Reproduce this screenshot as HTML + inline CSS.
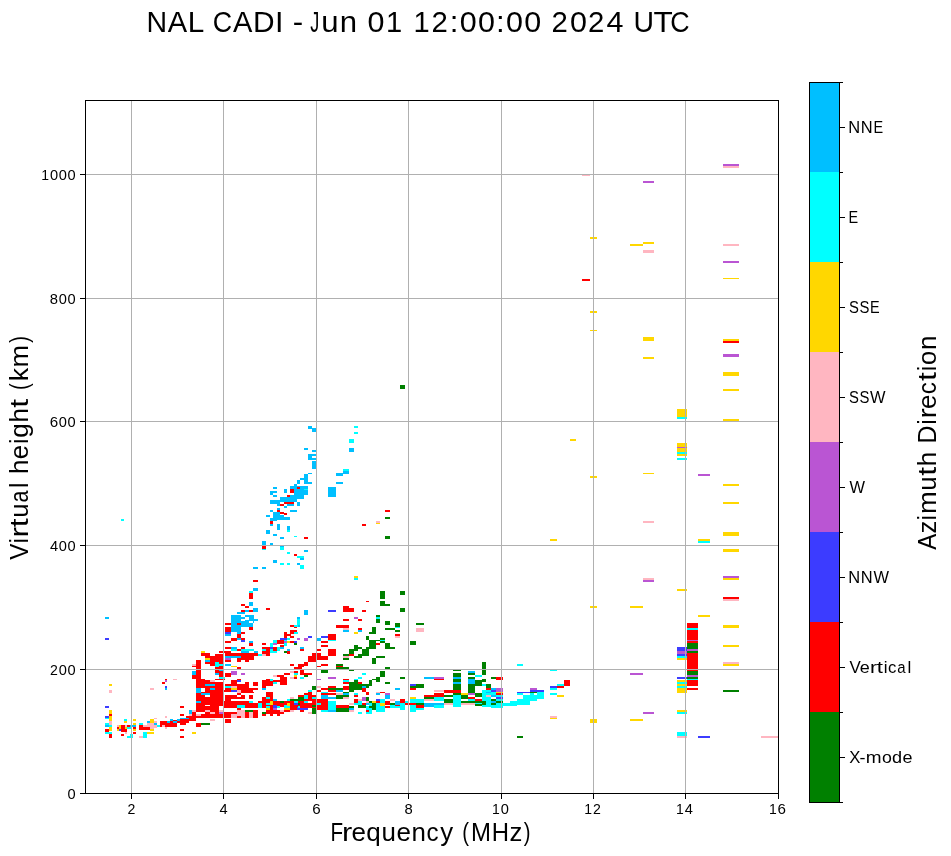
<!DOCTYPE html><html><head><meta charset="utf-8"><style>html,body{margin:0;padding:0;background:#fff;width:951px;height:856px;overflow:hidden}svg{position:absolute;left:0;top:0;will-change:transform}text{font-family:"Liberation Sans",sans-serif;fill:#000}</style></head><body>
<svg width="951" height="856" viewBox="0 0 951 856">
<g shape-rendering="crispEdges">
<rect x="723" y="164" width="16" height="2" fill="#ba55d3"/>
<rect x="723" y="166" width="16" height="2" fill="#ffb6c1"/>
<rect x="582" y="174" width="8" height="2" fill="#ffb6c1"/>
<rect x="643" y="181" width="11" height="2" fill="#ba55d3"/>
<rect x="590" y="237" width="7" height="2" fill="#ffd700"/>
<rect x="630" y="244" width="13" height="2" fill="#ffd700"/>
<rect x="643" y="242" width="11" height="2" fill="#ffd700"/>
<rect x="643" y="250" width="11" height="3" fill="#ffb6c1"/>
<rect x="723" y="244" width="16" height="2" fill="#ffb6c1"/>
<rect x="723" y="261" width="16" height="2" fill="#ba55d3"/>
<rect x="723" y="278" width="16" height="1" fill="#ffd700"/>
<rect x="582" y="279" width="8" height="2" fill="#ff0000"/>
<rect x="590" y="311" width="7" height="2" fill="#ffd700"/>
<rect x="590" y="330" width="7" height="1" fill="#ffd700"/>
<rect x="643" y="337" width="11" height="4" fill="#ffd700"/>
<rect x="723" y="339" width="16" height="2" fill="#ffd700"/>
<rect x="723" y="341" width="16" height="2" fill="#ff0000"/>
<rect x="723" y="354" width="16" height="3" fill="#ba55d3"/>
<rect x="643" y="357" width="11" height="2" fill="#ffd700"/>
<rect x="723" y="372" width="16" height="4" fill="#ffd700"/>
<rect x="723" y="389" width="16" height="2" fill="#ffd700"/>
<rect x="677" y="409" width="10" height="8" fill="#ffd700"/>
<rect x="677" y="417" width="10" height="2" fill="#00ffff"/>
<rect x="723" y="419" width="16" height="2" fill="#ffd700"/>
<rect x="570" y="439" width="6" height="2" fill="#ffd700"/>
<rect x="677" y="443" width="10" height="13" fill="#ffd700"/>
<rect x="677" y="447" width="10" height="1" fill="#ba55d3"/>
<rect x="677" y="452" width="10" height="2" fill="#00ffff"/>
<rect x="677" y="458" width="10" height="2" fill="#00ffff"/>
<rect x="698" y="474" width="12" height="2" fill="#ba55d3"/>
<rect x="643" y="473" width="11" height="1" fill="#ffd700"/>
<rect x="590" y="476" width="7" height="2" fill="#ffd700"/>
<rect x="723" y="484" width="16" height="2" fill="#ffd700"/>
<rect x="723" y="502" width="16" height="2" fill="#ffd700"/>
<rect x="643" y="521" width="11" height="2" fill="#ffb6c1"/>
<rect x="723" y="532" width="16" height="4" fill="#ffd700"/>
<rect x="550" y="539" width="7" height="2" fill="#ffd700"/>
<rect x="698" y="539" width="12" height="2" fill="#ffd700"/>
<rect x="698" y="541" width="12" height="2" fill="#00ffff"/>
<rect x="723" y="549" width="16" height="3" fill="#ffd700"/>
<rect x="723" y="578" width="16" height="2" fill="#ffd700"/>
<rect x="643" y="578" width="11" height="2" fill="#ffb6c1"/>
<rect x="643" y="580" width="11" height="2" fill="#ba55d3"/>
<rect x="677" y="589" width="10" height="2" fill="#ffd700"/>
<rect x="723" y="597" width="16" height="2" fill="#ff0000"/>
<rect x="723" y="599" width="16" height="2" fill="#ffb6c1"/>
<rect x="590" y="606" width="7" height="2" fill="#ffd700"/>
<rect x="630" y="606" width="13" height="2" fill="#ffd700"/>
<rect x="698" y="615" width="12" height="2" fill="#ffd700"/>
<rect x="723" y="625" width="16" height="3" fill="#ffd700"/>
<rect x="723" y="645" width="16" height="2" fill="#ffd700"/>
<rect x="723" y="662" width="16" height="2" fill="#ffb6c1"/>
<rect x="723" y="664" width="16" height="2" fill="#ffd700"/>
<rect x="723" y="690" width="16" height="2" fill="#008000"/>
<rect x="550" y="669" width="7" height="2" fill="#00ffff"/>
<rect x="630" y="673" width="13" height="2" fill="#ba55d3"/>
<rect x="643" y="712" width="11" height="2" fill="#ba55d3"/>
<rect x="630" y="719" width="13" height="2" fill="#ffd700"/>
<rect x="550" y="716" width="7" height="2" fill="#ffb6c1"/>
<rect x="550" y="718" width="7" height="1" fill="#ffd700"/>
<rect x="590" y="719" width="7" height="4" fill="#ffd700"/>
<rect x="677" y="732" width="10" height="4" fill="#00ffff"/>
<rect x="677" y="736" width="10" height="2" fill="#ffb6c1"/>
<rect x="698" y="736" width="12" height="2" fill="#3c3cff"/>
<rect x="761" y="736" width="17" height="2" fill="#ffb6c1"/>
<rect x="687" y="623" width="11" height="63" fill="#ff0000"/>
<rect x="687" y="628" width="11" height="2" fill="#00ffff"/>
<rect x="687" y="640" width="11" height="1" fill="#ba55d3"/>
<rect x="687" y="643" width="11" height="6" fill="#008000"/>
<rect x="687" y="649" width="11" height="2" fill="#ba55d3"/>
<rect x="687" y="651" width="11" height="2" fill="#008000"/>
<rect x="687" y="671" width="11" height="4" fill="#008000"/>
<rect x="687" y="675" width="11" height="2" fill="#ba55d3"/>
<rect x="687" y="677" width="11" height="2" fill="#008000"/>
<rect x="687" y="679" width="11" height="1" fill="#00ffff"/>
<rect x="687" y="688" width="11" height="2" fill="#ff0000"/>
<rect x="677" y="647" width="10" height="4" fill="#3c3cff"/>
<rect x="677" y="651" width="10" height="3" fill="#ba55d3"/>
<rect x="677" y="654" width="10" height="2" fill="#3c3cff"/>
<rect x="677" y="656" width="10" height="2" fill="#00ffff"/>
<rect x="677" y="658" width="10" height="2" fill="#ffd700"/>
<rect x="677" y="677" width="10" height="2" fill="#3c3cff"/>
<rect x="677" y="680" width="10" height="2" fill="#ffd700"/>
<rect x="677" y="682" width="10" height="2" fill="#00ffff"/>
<rect x="677" y="684" width="10" height="2" fill="#ffd700"/>
<rect x="677" y="686" width="10" height="2" fill="#00ffff"/>
<rect x="677" y="688" width="10" height="5" fill="#ffd700"/>
<rect x="677" y="710" width="10" height="2" fill="#ffd700"/>
<rect x="677" y="712" width="10" height="2" fill="#00ffff"/>
<rect x="723" y="576" width="16" height="2" fill="#ba55d3"/>
<rect x="400" y="385" width="5" height="4" fill="#008000"/>
<rect x="354" y="426" width="4" height="2" fill="#00ffff"/>
<rect x="354" y="432" width="4" height="2" fill="#00ffff"/>
<rect x="349" y="439" width="5" height="4" fill="#00ffff"/>
<rect x="349" y="448" width="5" height="4" fill="#00bfff"/>
<rect x="343" y="469" width="6" height="5" fill="#00bfff"/>
<rect x="343" y="469" width="6" height="2" fill="#00ffff"/>
<rect x="336" y="473" width="7" height="3" fill="#00bfff"/>
<rect x="336" y="482" width="7" height="2" fill="#00bfff"/>
<rect x="328" y="487" width="8" height="10" fill="#00bfff"/>
<rect x="385" y="510" width="5" height="2" fill="#ff0000"/>
<rect x="385" y="517" width="5" height="2" fill="#008000"/>
<rect x="376" y="521" width="4" height="2" fill="#ffb6c1"/>
<rect x="376" y="523" width="4" height="1" fill="#ffd700"/>
<rect x="362" y="524" width="4" height="2" fill="#ff0000"/>
<rect x="385" y="536" width="5" height="3" fill="#008000"/>
<rect x="308" y="426" width="4" height="3" fill="#00bfff"/>
<rect x="312" y="428" width="4" height="4" fill="#00bfff"/>
<rect x="304" y="448" width="4" height="2" fill="#00bfff"/>
<rect x="312" y="450" width="4" height="2" fill="#00bfff"/>
<rect x="308" y="454" width="8" height="2" fill="#00bfff"/>
<rect x="308" y="456" width="4" height="2" fill="#00bfff"/>
<rect x="308" y="458" width="8" height="2" fill="#00bfff"/>
<rect x="312" y="461" width="4" height="8" fill="#00bfff"/>
<rect x="308" y="473" width="4" height="1" fill="#00bfff"/>
<rect x="304" y="474" width="4" height="10" fill="#00bfff"/>
<rect x="308" y="482" width="4" height="2" fill="#00bfff"/>
<rect x="300" y="478" width="4" height="2" fill="#00bfff"/>
<rect x="297" y="480" width="3" height="4" fill="#00bfff"/>
<rect x="294" y="484" width="3" height="2" fill="#00bfff"/>
<rect x="290" y="486" width="18" height="4" fill="#00bfff"/>
<rect x="297" y="487" width="3" height="2" fill="#ff0000"/>
<rect x="304" y="489" width="4" height="2" fill="#00ffff"/>
<rect x="294" y="490" width="14" height="5" fill="#00bfff"/>
<rect x="290" y="489" width="4" height="4" fill="#ff0000"/>
<rect x="284" y="489" width="3" height="4" fill="#00bfff"/>
<rect x="273" y="487" width="4" height="2" fill="#00bfff"/>
<rect x="270" y="491" width="7" height="2" fill="#00bfff"/>
<rect x="270" y="493" width="3" height="2" fill="#00bfff"/>
<rect x="273" y="495" width="4" height="2" fill="#00bfff"/>
<rect x="290" y="495" width="14" height="4" fill="#00bfff"/>
<rect x="287" y="495" width="3" height="2" fill="#ff0000"/>
<rect x="290" y="497" width="4" height="2" fill="#ff0000"/>
<rect x="280" y="497" width="17" height="5" fill="#00bfff"/>
<rect x="270" y="500" width="10" height="4" fill="#00bfff"/>
<rect x="284" y="502" width="10" height="2" fill="#ff0000"/>
<rect x="280" y="504" width="4" height="2" fill="#ff0000"/>
<rect x="277" y="503" width="3" height="3" fill="#00bfff"/>
<rect x="287" y="504" width="7" height="2" fill="#00bfff"/>
<rect x="297" y="502" width="3" height="4" fill="#00bfff"/>
<rect x="284" y="506" width="3" height="2" fill="#00bfff"/>
<rect x="277" y="508" width="3" height="2" fill="#00bfff"/>
<rect x="270" y="510" width="3" height="2" fill="#00bfff"/>
<rect x="277" y="510" width="3" height="2" fill="#ff0000"/>
<rect x="280" y="512" width="4" height="2" fill="#ff0000"/>
<rect x="284" y="513" width="3" height="2" fill="#ff0000"/>
<rect x="290" y="510" width="7" height="2" fill="#00bfff"/>
<rect x="273" y="512" width="7" height="8" fill="#00bfff"/>
<rect x="266" y="515" width="4" height="2" fill="#00bfff"/>
<rect x="280" y="515" width="4" height="5" fill="#00bfff"/>
<rect x="284" y="517" width="6" height="3" fill="#00bfff"/>
<rect x="270" y="518" width="7" height="3" fill="#00bfff"/>
<rect x="270" y="521" width="3" height="1" fill="#ff0000"/>
<rect x="270" y="522" width="3" height="2" fill="#ff0000"/>
<rect x="270" y="524" width="3" height="2" fill="#00bfff"/>
<rect x="277" y="524" width="3" height="6" fill="#00bfff"/>
<rect x="287" y="526" width="3" height="4" fill="#00bfff"/>
<rect x="287" y="530" width="3" height="2" fill="#00ffff"/>
<rect x="266" y="530" width="4" height="4" fill="#00bfff"/>
<rect x="273" y="534" width="4" height="2" fill="#00bfff"/>
<rect x="280" y="537" width="4" height="2" fill="#00bfff"/>
<rect x="294" y="536" width="3" height="1" fill="#00ffff"/>
<rect x="304" y="537" width="4" height="2" fill="#ff0000"/>
<rect x="262" y="541" width="4" height="4" fill="#00bfff"/>
<rect x="270" y="543" width="3" height="2" fill="#00bfff"/>
<rect x="262" y="546" width="4" height="3" fill="#ff0000"/>
<rect x="262" y="549" width="4" height="1" fill="#00ffff"/>
<rect x="280" y="546" width="4" height="4" fill="#00ffff"/>
<rect x="280" y="546" width="4" height="1" fill="#00bfff"/>
<rect x="304" y="550" width="4" height="2" fill="#00bfff"/>
<rect x="287" y="552" width="3" height="2" fill="#00ffff"/>
<rect x="294" y="554" width="3" height="2" fill="#ff0000"/>
<rect x="297" y="556" width="7" height="2" fill="#00ffff"/>
<rect x="300" y="558" width="4" height="2" fill="#00bfff"/>
<rect x="273" y="560" width="4" height="3" fill="#00bfff"/>
<rect x="280" y="563" width="4" height="2" fill="#00ffff"/>
<rect x="287" y="563" width="3" height="2" fill="#00ffff"/>
<rect x="297" y="563" width="3" height="2" fill="#00bfff"/>
<rect x="300" y="565" width="4" height="4" fill="#00ffff"/>
<rect x="253" y="567" width="5" height="2" fill="#00bfff"/>
<rect x="262" y="567" width="4" height="2" fill="#00bfff"/>
<rect x="253" y="580" width="5" height="2" fill="#ff0000"/>
<rect x="253" y="588" width="5" height="3" fill="#00bfff"/>
<rect x="249" y="591" width="4" height="2" fill="#00ffff"/>
<rect x="249" y="593" width="4" height="6" fill="#ff0000"/>
<rect x="249" y="602" width="4" height="4" fill="#00bfff"/>
<rect x="241" y="604" width="4" height="2" fill="#ff0000"/>
<rect x="245" y="606" width="4" height="2" fill="#ff0000"/>
<rect x="241" y="610" width="4" height="2" fill="#ff0000"/>
<rect x="245" y="610" width="4" height="2" fill="#00bfff"/>
<rect x="249" y="610" width="4" height="2" fill="#ff0000"/>
<rect x="253" y="608" width="5" height="4" fill="#00bfff"/>
<rect x="266" y="608" width="4" height="2" fill="#ff0000"/>
<rect x="253" y="619" width="5" height="2" fill="#00bfff"/>
<rect x="304" y="610" width="4" height="5" fill="#00bfff"/>
<rect x="297" y="617" width="3" height="10" fill="#00ffff"/>
<rect x="297" y="617" width="3" height="2" fill="#00bfff"/>
<rect x="294" y="625" width="3" height="2" fill="#00ffff"/>
<rect x="290" y="625" width="4" height="2" fill="#ff0000"/>
<rect x="294" y="627" width="3" height="1" fill="#ff0000"/>
<rect x="328" y="610" width="8" height="2" fill="#3c3cff"/>
<rect x="343" y="606" width="6" height="6" fill="#ff0000"/>
<rect x="349" y="608" width="5" height="4" fill="#ff0000"/>
<rect x="343" y="619" width="6" height="2" fill="#ff0000"/>
<rect x="336" y="625" width="13" height="3" fill="#ff0000"/>
<rect x="343" y="628" width="6" height="1" fill="#ffb6c1"/>
<rect x="354" y="617" width="4" height="2" fill="#ba55d3"/>
<rect x="354" y="576" width="4" height="2" fill="#ffd700"/>
<rect x="354" y="578" width="4" height="2" fill="#00ffff"/>
<rect x="237" y="612" width="8" height="2" fill="#00bfff"/>
<rect x="231" y="615" width="10" height="17" fill="#00bfff"/>
<rect x="241" y="615" width="13" height="12" fill="#00bfff"/>
<rect x="241" y="615" width="4" height="2" fill="#ffffff"/>
<rect x="245" y="617" width="4" height="3" fill="#ffffff"/>
<rect x="241" y="619" width="4" height="2" fill="#ffffff"/>
<rect x="249" y="621" width="4" height="2" fill="#ffffff"/>
<rect x="253" y="623" width="1" height="4" fill="#ffffff"/>
<rect x="237" y="623" width="4" height="2" fill="#ff0000"/>
<rect x="249" y="627" width="4" height="3" fill="#ff0000"/>
<rect x="225" y="623" width="6" height="2" fill="#ff0000"/>
<rect x="225" y="627" width="6" height="5" fill="#ff0000"/>
<rect x="225" y="632" width="6" height="2" fill="#3c3cff"/>
<rect x="225" y="634" width="6" height="2" fill="#00bfff"/>
<rect x="237" y="632" width="4" height="2" fill="#00bfff"/>
<rect x="241" y="632" width="4" height="2" fill="#ff0000"/>
<rect x="237" y="634" width="4" height="4" fill="#ff0000"/>
<rect x="231" y="638" width="6" height="3" fill="#ff0000"/>
<rect x="237" y="638" width="4" height="2" fill="#00bfff"/>
<rect x="241" y="638" width="4" height="2" fill="#ff0000"/>
<rect x="241" y="640" width="4" height="2" fill="#3c3cff"/>
<rect x="225" y="641" width="6" height="2" fill="#ff0000"/>
<rect x="249" y="641" width="4" height="2" fill="#00bfff"/>
<rect x="249" y="643" width="4" height="3" fill="#ff0000"/>
<rect x="225" y="647" width="6" height="2" fill="#ff0000"/>
<rect x="231" y="647" width="6" height="2" fill="#00bfff"/>
<rect x="231" y="649" width="6" height="2" fill="#00ffff"/>
<rect x="241" y="647" width="4" height="2" fill="#ff0000"/>
<rect x="237" y="649" width="4" height="2" fill="#ff0000"/>
<rect x="241" y="649" width="13" height="2" fill="#00ffff"/>
<rect x="241" y="651" width="8" height="3" fill="#00bfff"/>
<rect x="254" y="651" width="4" height="2" fill="#00bfff"/>
<rect x="219" y="651" width="12" height="2" fill="#ff0000"/>
<rect x="201" y="651" width="4" height="2" fill="#ffd700"/>
<rect x="201" y="653" width="9" height="3" fill="#ff0000"/>
<rect x="215" y="654" width="9" height="2" fill="#ff0000"/>
<rect x="225" y="653" width="33" height="3" fill="#ff0000"/>
<rect x="258" y="654" width="4" height="2" fill="#00ffff"/>
<rect x="262" y="654" width="4" height="2" fill="#ffb6c1"/>
<rect x="266" y="654" width="4" height="2" fill="#ff0000"/>
<rect x="210" y="656" width="14" height="10" fill="#ff0000"/>
<rect x="225" y="656" width="16" height="2" fill="#00bfff"/>
<rect x="241" y="656" width="13" height="4" fill="#ff0000"/>
<rect x="237" y="658" width="4" height="4" fill="#ff0000"/>
<rect x="245" y="660" width="4" height="2" fill="#ff0000"/>
<rect x="225" y="658" width="6" height="2" fill="#ba55d3"/>
<rect x="225" y="660" width="6" height="2" fill="#ff0000"/>
<rect x="205" y="658" width="5" height="2" fill="#ffd700"/>
<rect x="205" y="660" width="5" height="2" fill="#00bfff"/>
<rect x="196" y="660" width="5" height="47" fill="#ff0000"/>
<rect x="205" y="662" width="5" height="2" fill="#ff0000"/>
<rect x="192" y="664" width="4" height="2" fill="#ffb6c1"/>
<rect x="215" y="662" width="4" height="4" fill="#00bfff"/>
<rect x="215" y="664" width="9" height="2" fill="#00ffff"/>
<rect x="225" y="664" width="6" height="2" fill="#00bfff"/>
<rect x="231" y="666" width="6" height="1" fill="#ffd700"/>
<rect x="215" y="666" width="9" height="3" fill="#ff0000"/>
<rect x="237" y="667" width="4" height="2" fill="#ff0000"/>
<rect x="192" y="666" width="4" height="3" fill="#ff0000"/>
<rect x="192" y="671" width="4" height="4" fill="#00bfff"/>
<rect x="192" y="675" width="4" height="4" fill="#ff0000"/>
<rect x="215" y="670" width="9" height="7" fill="#ff0000"/>
<rect x="219" y="670" width="5" height="1" fill="#00bfff"/>
<rect x="215" y="673" width="4" height="2" fill="#00bfff"/>
<rect x="225" y="673" width="6" height="4" fill="#ff0000"/>
<rect x="231" y="671" width="6" height="4" fill="#ba55d3"/>
<rect x="241" y="673" width="4" height="2" fill="#ba55d3"/>
<rect x="219" y="677" width="5" height="2" fill="#00ffff"/>
<rect x="201" y="679" width="23" height="28" fill="#ff0000"/>
<rect x="225" y="680" width="33" height="27" fill="#ff0000"/>
<rect x="210" y="680" width="5" height="2" fill="#ffb6c1"/>
<rect x="205" y="684" width="10" height="2" fill="#00bfff"/>
<rect x="210" y="688" width="5" height="2" fill="#00bfff"/>
<rect x="196" y="688" width="5" height="5" fill="#00bfff"/>
<rect x="201" y="688" width="4" height="3" fill="#ffffff"/>
<rect x="201" y="693" width="9" height="2" fill="#00bfff"/>
<rect x="205" y="695" width="5" height="2" fill="#ffffff"/>
<rect x="196" y="701" width="5" height="2" fill="#00bfff"/>
<rect x="237" y="680" width="4" height="2" fill="#3c3cff"/>
<rect x="241" y="680" width="13" height="2" fill="#ffffff"/>
<rect x="254" y="680" width="4" height="2" fill="#ffffff"/>
<rect x="241" y="684" width="13" height="2" fill="#ffffff"/>
<rect x="225" y="686" width="6" height="2" fill="#00ffff"/>
<rect x="231" y="686" width="6" height="2" fill="#ffb6c1"/>
<rect x="231" y="688" width="6" height="2" fill="#ffd700"/>
<rect x="231" y="690" width="6" height="2" fill="#3c3cff"/>
<rect x="237" y="690" width="4" height="3" fill="#ffb6c1"/>
<rect x="225" y="692" width="6" height="3" fill="#ffffff"/>
<rect x="241" y="693" width="8" height="2" fill="#ffffff"/>
<rect x="249" y="695" width="4" height="4" fill="#ffffff"/>
<rect x="254" y="692" width="4" height="15" fill="#ffffff"/>
<rect x="249" y="701" width="4" height="2" fill="#00ffff"/>
<rect x="284" y="632" width="3" height="6" fill="#ff0000"/>
<rect x="290" y="630" width="7" height="4" fill="#ff0000"/>
<rect x="294" y="632" width="4" height="2" fill="#00ffff"/>
<rect x="287" y="634" width="4" height="2" fill="#ff0000"/>
<rect x="290" y="636" width="4" height="2" fill="#ff0000"/>
<rect x="280" y="638" width="7" height="2" fill="#3c3cff"/>
<rect x="297" y="638" width="1" height="2" fill="#ba55d3"/>
<rect x="287" y="638" width="3" height="2" fill="#00ffff"/>
<rect x="276" y="640" width="4" height="4" fill="#ff0000"/>
<rect x="273" y="640" width="4" height="3" fill="#00ffff"/>
<rect x="280" y="640" width="4" height="4" fill="#ff0000"/>
<rect x="284" y="640" width="3" height="6" fill="#00ffff"/>
<rect x="284" y="641" width="3" height="2" fill="#ba55d3"/>
<rect x="287" y="641" width="3" height="2" fill="#ffd700"/>
<rect x="290" y="641" width="4" height="2" fill="#ff0000"/>
<rect x="294" y="641" width="3" height="2" fill="#3c3cff"/>
<rect x="294" y="643" width="3" height="2" fill="#008000"/>
<rect x="270" y="643" width="3" height="4" fill="#00ffff"/>
<rect x="273" y="643" width="4" height="2" fill="#ba55d3"/>
<rect x="280" y="645" width="4" height="3" fill="#ff0000"/>
<rect x="262" y="643" width="4" height="2" fill="#ff0000"/>
<rect x="262" y="647" width="8" height="7" fill="#ff0000"/>
<rect x="262" y="649" width="4" height="2" fill="#00ffff"/>
<rect x="270" y="647" width="3" height="2" fill="#3c3cff"/>
<rect x="273" y="647" width="4" height="4" fill="#ff0000"/>
<rect x="270" y="649" width="3" height="4" fill="#00ffff"/>
<rect x="277" y="647" width="3" height="4" fill="#00ffff"/>
<rect x="280" y="647" width="4" height="2" fill="#00bfff"/>
<rect x="273" y="651" width="4" height="2" fill="#00ffff"/>
<rect x="266" y="653" width="4" height="3" fill="#ff0000"/>
<rect x="284" y="651" width="3" height="2" fill="#008000"/>
<rect x="287" y="651" width="3" height="3" fill="#ff0000"/>
<rect x="287" y="649" width="3" height="2" fill="#00bfff"/>
<rect x="290" y="664" width="4" height="2" fill="#ff0000"/>
<rect x="294" y="667" width="4" height="2" fill="#ff0000"/>
<rect x="290" y="671" width="4" height="2" fill="#ffb6c1"/>
<rect x="294" y="671" width="4" height="2" fill="#ff0000"/>
<rect x="294" y="673" width="4" height="2" fill="#00ffff"/>
<rect x="294" y="675" width="3" height="2" fill="#ffd700"/>
<rect x="294" y="677" width="3" height="2" fill="#ff0000"/>
<rect x="290" y="677" width="4" height="2" fill="#ffb6c1"/>
<rect x="284" y="673" width="6" height="2" fill="#ff0000"/>
<rect x="276" y="675" width="8" height="2" fill="#ff0000"/>
<rect x="280" y="677" width="7" height="8" fill="#ff0000"/>
<rect x="273" y="675" width="4" height="2" fill="#ffb6c1"/>
<rect x="266" y="679" width="7" height="7" fill="#ff0000"/>
<rect x="270" y="679" width="3" height="2" fill="#00ffff"/>
<rect x="273" y="680" width="7" height="2" fill="#ff0000"/>
<rect x="273" y="682" width="4" height="2" fill="#00ffff"/>
<rect x="262" y="680" width="4" height="8" fill="#ff0000"/>
<rect x="262" y="688" width="4" height="2" fill="#00bfff"/>
<rect x="266" y="692" width="6" height="15" fill="#ff0000"/>
<rect x="266" y="697" width="4" height="2" fill="#00ffff"/>
<rect x="290" y="697" width="4" height="2" fill="#ffb6c1"/>
<rect x="273" y="699" width="4" height="2" fill="#00bfff"/>
<rect x="287" y="699" width="4" height="2" fill="#00ffff"/>
<rect x="291" y="699" width="7" height="2" fill="#008000"/>
<rect x="273" y="701" width="25" height="6" fill="#ff0000"/>
<rect x="270" y="701" width="3" height="4" fill="#ffd700"/>
<rect x="280" y="701" width="4" height="2" fill="#008000"/>
<rect x="287" y="703" width="3" height="2" fill="#ffd700"/>
<rect x="294" y="701" width="4" height="2" fill="#00ffff"/>
<rect x="258" y="704" width="4" height="3" fill="#00ffff"/>
<rect x="266" y="703" width="4" height="2" fill="#00bfff"/>
<rect x="294" y="704" width="4" height="2" fill="#3c3cff"/>
<rect x="366" y="601" width="3" height="1" fill="#ff0000"/>
<rect x="380" y="601" width="5" height="5" fill="#008000"/>
<rect x="385" y="604" width="5" height="2" fill="#008000"/>
<rect x="400" y="608" width="5" height="4" fill="#008000"/>
<rect x="362" y="610" width="4" height="2" fill="#ff0000"/>
<rect x="376" y="615" width="4" height="2" fill="#008000"/>
<rect x="376" y="617" width="4" height="2" fill="#00ffff"/>
<rect x="376" y="619" width="4" height="4" fill="#008000"/>
<rect x="358" y="619" width="4" height="2" fill="#ff0000"/>
<rect x="385" y="621" width="5" height="4" fill="#008000"/>
<rect x="395" y="623" width="5" height="4" fill="#008000"/>
<rect x="395" y="627" width="5" height="1" fill="#00ffff"/>
<rect x="343" y="629" width="6" height="1" fill="#ffb6c1"/>
<rect x="343" y="630" width="6" height="2" fill="#00bfff"/>
<rect x="358" y="628" width="4" height="2" fill="#ff0000"/>
<rect x="358" y="630" width="4" height="2" fill="#00bfff"/>
<rect x="354" y="632" width="4" height="2" fill="#ffd700"/>
<rect x="372" y="627" width="4" height="7" fill="#008000"/>
<rect x="369" y="632" width="3" height="2" fill="#008000"/>
<rect x="385" y="628" width="10" height="2" fill="#008000"/>
<rect x="395" y="630" width="5" height="2" fill="#008000"/>
<rect x="395" y="634" width="5" height="2" fill="#ff0000"/>
<rect x="395" y="636" width="5" height="2" fill="#ffb6c1"/>
<rect x="304" y="638" width="4" height="3" fill="#ba55d3"/>
<rect x="308" y="636" width="4" height="2" fill="#3c3cff"/>
<rect x="321" y="636" width="7" height="2" fill="#3c3cff"/>
<rect x="317" y="638" width="4" height="3" fill="#00bfff"/>
<rect x="328" y="634" width="8" height="6" fill="#ff0000"/>
<rect x="328" y="640" width="8" height="1" fill="#00ffff"/>
<rect x="321" y="641" width="7" height="2" fill="#ff0000"/>
<rect x="321" y="645" width="7" height="2" fill="#ff0000"/>
<rect x="366" y="636" width="3" height="4" fill="#008000"/>
<rect x="369" y="640" width="11" height="1" fill="#008000"/>
<rect x="380" y="638" width="5" height="5" fill="#008000"/>
<rect x="380" y="640" width="5" height="1" fill="#00ffff"/>
<rect x="410" y="641" width="6" height="4" fill="#008000"/>
<rect x="300" y="647" width="4" height="2" fill="#00bfff"/>
<rect x="300" y="649" width="4" height="2" fill="#ff0000"/>
<rect x="317" y="649" width="4" height="2" fill="#ff0000"/>
<rect x="328" y="649" width="8" height="7" fill="#ff0000"/>
<rect x="369" y="641" width="7" height="8" fill="#008000"/>
<rect x="376" y="643" width="4" height="2" fill="#ff0000"/>
<rect x="385" y="643" width="5" height="6" fill="#008000"/>
<rect x="390" y="647" width="5" height="2" fill="#008000"/>
<rect x="354" y="645" width="4" height="6" fill="#008000"/>
<rect x="358" y="647" width="4" height="2" fill="#008000"/>
<rect x="349" y="649" width="5" height="5" fill="#008000"/>
<rect x="362" y="649" width="7" height="7" fill="#008000"/>
<rect x="366" y="647" width="3" height="2" fill="#008000"/>
<rect x="343" y="654" width="6" height="2" fill="#008000"/>
<rect x="349" y="654" width="5" height="2" fill="#ff0000"/>
<rect x="343" y="656" width="6" height="2" fill="#ffb6c1"/>
<rect x="343" y="658" width="6" height="2" fill="#008000"/>
<rect x="354" y="656" width="8" height="2" fill="#008000"/>
<rect x="358" y="654" width="4" height="2" fill="#008000"/>
<rect x="372" y="658" width="4" height="6" fill="#008000"/>
<rect x="376" y="656" width="9" height="2" fill="#008000"/>
<rect x="312" y="653" width="5" height="9" fill="#ff0000"/>
<rect x="308" y="656" width="4" height="6" fill="#ff0000"/>
<rect x="317" y="656" width="11" height="4" fill="#ff0000"/>
<rect x="317" y="653" width="4" height="3" fill="#ff0000"/>
<rect x="304" y="662" width="4" height="4" fill="#ff0000"/>
<rect x="298" y="664" width="6" height="3" fill="#ff0000"/>
<rect x="298" y="667" width="4" height="2" fill="#ff0000"/>
<rect x="321" y="664" width="7" height="2" fill="#ff0000"/>
<rect x="317" y="666" width="4" height="1" fill="#ff0000"/>
<rect x="336" y="664" width="7" height="2" fill="#008000"/>
<rect x="336" y="666" width="7" height="1" fill="#ff0000"/>
<rect x="336" y="667" width="13" height="2" fill="#008000"/>
<rect x="385" y="667" width="5" height="2" fill="#008000"/>
<rect x="349" y="670" width="5" height="1" fill="#008000"/>
<rect x="321" y="670" width="7" height="3" fill="#008000"/>
<rect x="300" y="670" width="4" height="5" fill="#ff0000"/>
<rect x="304" y="673" width="8" height="2" fill="#ff0000"/>
<rect x="304" y="675" width="4" height="2" fill="#008000"/>
<rect x="300" y="677" width="4" height="2" fill="#00ffff"/>
<rect x="362" y="673" width="4" height="2" fill="#00ffff"/>
<rect x="380" y="671" width="5" height="6" fill="#008000"/>
<rect x="317" y="679" width="4" height="1" fill="#ba55d3"/>
<rect x="328" y="677" width="8" height="2" fill="#ba55d3"/>
<rect x="400" y="677" width="5" height="2" fill="#008000"/>
<rect x="354" y="679" width="4" height="1" fill="#00ffff"/>
<rect x="358" y="677" width="4" height="2" fill="#00ffff"/>
<rect x="376" y="677" width="4" height="5" fill="#008000"/>
<rect x="372" y="679" width="4" height="1" fill="#008000"/>
<rect x="343" y="679" width="6" height="1" fill="#ff0000"/>
<rect x="343" y="680" width="6" height="2" fill="#00ffff"/>
<rect x="343" y="682" width="6" height="2" fill="#ff0000"/>
<rect x="349" y="682" width="13" height="8" fill="#008000"/>
<rect x="354" y="680" width="4" height="2" fill="#008000"/>
<rect x="358" y="682" width="4" height="2" fill="#ff0000"/>
<rect x="369" y="680" width="3" height="6" fill="#008000"/>
<rect x="362" y="684" width="7" height="4" fill="#008000"/>
<rect x="362" y="686" width="4" height="2" fill="#00bfff"/>
<rect x="385" y="682" width="5" height="2" fill="#008000"/>
<rect x="410" y="684" width="6" height="2" fill="#3c3cff"/>
<rect x="410" y="686" width="6" height="2" fill="#008000"/>
<rect x="410" y="688" width="6" height="2" fill="#ff0000"/>
<rect x="395" y="688" width="5" height="2" fill="#00bfff"/>
<rect x="312" y="686" width="4" height="4" fill="#008000"/>
<rect x="308" y="690" width="4" height="2" fill="#00ffff"/>
<rect x="317" y="686" width="4" height="2" fill="#ffb6c1"/>
<rect x="328" y="686" width="8" height="2" fill="#ff0000"/>
<rect x="328" y="688" width="15" height="2" fill="#008000"/>
<rect x="321" y="688" width="7" height="2" fill="#ff0000"/>
<rect x="317" y="690" width="4" height="2" fill="#ff0000"/>
<rect x="328" y="690" width="8" height="3" fill="#ff0000"/>
<rect x="336" y="690" width="7" height="3" fill="#00bfff"/>
<rect x="343" y="686" width="6" height="4" fill="#ff0000"/>
<rect x="349" y="690" width="5" height="3" fill="#008000"/>
<rect x="362" y="688" width="4" height="4" fill="#ff0000"/>
<rect x="366" y="692" width="3" height="3" fill="#ff0000"/>
<rect x="354" y="693" width="4" height="2" fill="#00ffff"/>
<rect x="354" y="695" width="4" height="2" fill="#ff0000"/>
<rect x="376" y="692" width="4" height="1" fill="#ffb6c1"/>
<rect x="380" y="692" width="5" height="1" fill="#ff0000"/>
<rect x="376" y="693" width="4" height="2" fill="#00bfff"/>
<rect x="385" y="693" width="5" height="2" fill="#ba55d3"/>
<rect x="385" y="695" width="5" height="4" fill="#00bfff"/>
<rect x="390" y="699" width="5" height="2" fill="#ffb6c1"/>
<rect x="400" y="699" width="5" height="4" fill="#ff0000"/>
<rect x="410" y="697" width="6" height="2" fill="#ffd700"/>
<rect x="410" y="699" width="6" height="4" fill="#00ffff"/>
<rect x="298" y="692" width="18" height="15" fill="#ff0000"/>
<rect x="304" y="695" width="4" height="5" fill="#00ffff"/>
<rect x="300" y="699" width="4" height="2" fill="#00ffff"/>
<rect x="298" y="697" width="6" height="2" fill="#008000"/>
<rect x="308" y="697" width="4" height="2" fill="#00ffff"/>
<rect x="321" y="695" width="15" height="4" fill="#00bfff"/>
<rect x="317" y="693" width="4" height="2" fill="#ff0000"/>
<rect x="317" y="699" width="19" height="2" fill="#ff0000"/>
<rect x="328" y="701" width="8" height="6" fill="#00ffff"/>
<rect x="317" y="701" width="11" height="6" fill="#ff0000"/>
<rect x="336" y="695" width="7" height="4" fill="#008000"/>
<rect x="336" y="693" width="7" height="2" fill="#ffb6c1"/>
<rect x="343" y="693" width="6" height="2" fill="#00bfff"/>
<rect x="343" y="695" width="6" height="2" fill="#008000"/>
<rect x="343" y="697" width="6" height="2" fill="#ffb6c1"/>
<rect x="354" y="699" width="4" height="4" fill="#ff0000"/>
<rect x="362" y="697" width="4" height="4" fill="#ba55d3"/>
<rect x="366" y="697" width="3" height="4" fill="#008000"/>
<rect x="358" y="699" width="4" height="2" fill="#ffb6c1"/>
<rect x="336" y="703" width="13" height="4" fill="#ff0000"/>
<rect x="349" y="703" width="5" height="3" fill="#ffb6c1"/>
<rect x="354" y="703" width="8" height="4" fill="#00ffff"/>
<rect x="362" y="703" width="4" height="4" fill="#ff0000"/>
<rect x="366" y="701" width="6" height="6" fill="#00bfff"/>
<rect x="372" y="701" width="4" height="2" fill="#ffd700"/>
<rect x="369" y="703" width="7" height="4" fill="#008000"/>
<rect x="376" y="701" width="9" height="6" fill="#00ffff"/>
<rect x="380" y="703" width="5" height="3" fill="#ffd700"/>
<rect x="385" y="701" width="5" height="6" fill="#ff0000"/>
<rect x="390" y="701" width="5" height="6" fill="#00bfff"/>
<rect x="395" y="701" width="10" height="6" fill="#00ffff"/>
<rect x="405" y="701" width="11" height="6" fill="#00ffff"/>
<rect x="416" y="623" width="8" height="2" fill="#008000"/>
<rect x="416" y="628" width="8" height="4" fill="#ffb6c1"/>
<rect x="482" y="662" width="4" height="13" fill="#008000"/>
<rect x="517" y="664" width="6" height="2" fill="#00ffff"/>
<rect x="453" y="670" width="8" height="1" fill="#008000"/>
<rect x="453" y="673" width="8" height="4" fill="#008000"/>
<rect x="453" y="677" width="8" height="2" fill="#00bfff"/>
<rect x="453" y="679" width="8" height="3" fill="#008000"/>
<rect x="453" y="682" width="8" height="2" fill="#00bfff"/>
<rect x="453" y="684" width="8" height="6" fill="#008000"/>
<rect x="468" y="671" width="7" height="2" fill="#00bfff"/>
<rect x="468" y="673" width="7" height="2" fill="#008000"/>
<rect x="475" y="675" width="7" height="2" fill="#00ffff"/>
<rect x="468" y="677" width="7" height="2" fill="#008000"/>
<rect x="468" y="679" width="7" height="5" fill="#00bfff"/>
<rect x="468" y="684" width="7" height="9" fill="#008000"/>
<rect x="475" y="680" width="7" height="6" fill="#008000"/>
<rect x="482" y="679" width="4" height="3" fill="#008000"/>
<rect x="482" y="684" width="4" height="2" fill="#00ffff"/>
<rect x="486" y="684" width="5" height="4" fill="#008000"/>
<rect x="491" y="677" width="5" height="2" fill="#008000"/>
<rect x="496" y="677" width="7" height="3" fill="#ff0000"/>
<rect x="424" y="677" width="10" height="2" fill="#00bfff"/>
<rect x="434" y="677" width="10" height="2" fill="#ba55d3"/>
<rect x="434" y="679" width="10" height="1" fill="#ff0000"/>
<rect x="416" y="684" width="8" height="4" fill="#008000"/>
<rect x="434" y="690" width="10" height="2" fill="#ffb6c1"/>
<rect x="444" y="690" width="17" height="3" fill="#ff0000"/>
<rect x="453" y="693" width="8" height="2" fill="#008000"/>
<rect x="461" y="693" width="7" height="2" fill="#ffd700"/>
<rect x="468" y="693" width="7" height="2" fill="#ba55d3"/>
<rect x="475" y="693" width="7" height="4" fill="#008000"/>
<rect x="482" y="690" width="9" height="17" fill="#00ffff"/>
<rect x="486" y="688" width="5" height="2" fill="#ff0000"/>
<rect x="491" y="688" width="5" height="2" fill="#00bfff"/>
<rect x="491" y="690" width="5" height="2" fill="#3c3cff"/>
<rect x="496" y="688" width="7" height="4" fill="#ba55d3"/>
<rect x="486" y="692" width="5" height="1" fill="#00bfff"/>
<rect x="496" y="692" width="7" height="3" fill="#ff0000"/>
<rect x="496" y="692" width="7" height="1" fill="#ffd700"/>
<rect x="491" y="692" width="5" height="3" fill="#00ffff"/>
<rect x="486" y="695" width="5" height="2" fill="#ffb6c1"/>
<rect x="491" y="695" width="5" height="2" fill="#00bfff"/>
<rect x="496" y="695" width="7" height="2" fill="#00ffff"/>
<rect x="496" y="697" width="7" height="2" fill="#3c3cff"/>
<rect x="491" y="699" width="5" height="2" fill="#008000"/>
<rect x="496" y="699" width="7" height="2" fill="#00ffff"/>
<rect x="491" y="701" width="5" height="2" fill="#00bfff"/>
<rect x="496" y="701" width="7" height="2" fill="#008000"/>
<rect x="491" y="703" width="5" height="2" fill="#008000"/>
<rect x="496" y="703" width="7" height="4" fill="#00ffff"/>
<rect x="424" y="695" width="10" height="2" fill="#ff0000"/>
<rect x="434" y="693" width="10" height="4" fill="#ff0000"/>
<rect x="444" y="695" width="9" height="2" fill="#008000"/>
<rect x="453" y="695" width="8" height="12" fill="#00ffff"/>
<rect x="461" y="695" width="7" height="4" fill="#008000"/>
<rect x="468" y="697" width="7" height="2" fill="#ff0000"/>
<rect x="424" y="697" width="10" height="2" fill="#008000"/>
<rect x="424" y="699" width="10" height="2" fill="#ffb6c1"/>
<rect x="434" y="697" width="10" height="4" fill="#00ffff"/>
<rect x="444" y="699" width="9" height="4" fill="#008000"/>
<rect x="416" y="699" width="8" height="4" fill="#00ffff"/>
<rect x="416" y="703" width="18" height="2" fill="#008000"/>
<rect x="424" y="703" width="20" height="4" fill="#00bfff"/>
<rect x="416" y="705" width="8" height="2" fill="#ff0000"/>
<rect x="468" y="699" width="7" height="2" fill="#00ffff"/>
<rect x="475" y="699" width="7" height="2" fill="#ff0000"/>
<rect x="461" y="701" width="21" height="2" fill="#008000"/>
<rect x="444" y="703" width="9" height="2" fill="#ffb6c1"/>
<rect x="461" y="703" width="14" height="2" fill="#ffb6c1"/>
<rect x="475" y="703" width="7" height="2" fill="#00ffff"/>
<rect x="482" y="701" width="4" height="4" fill="#008000"/>
<rect x="503" y="703" width="7" height="3" fill="#00ffff"/>
<rect x="510" y="701" width="7" height="5" fill="#00ffff"/>
<rect x="517" y="699" width="6" height="6" fill="#00ffff"/>
<rect x="523" y="695" width="7" height="10" fill="#00ffff"/>
<rect x="530" y="692" width="4" height="9" fill="#00ffff"/>
<rect x="517" y="692" width="13" height="1" fill="#3c3cff"/>
<rect x="517" y="693" width="6" height="2" fill="#00ffff"/>
<rect x="530" y="688" width="4" height="2" fill="#ba55d3"/>
<rect x="530" y="690" width="4" height="2" fill="#3c3cff"/>
<rect x="564" y="680" width="6" height="6" fill="#ff0000"/>
<rect x="557" y="684" width="7" height="2" fill="#00ffff"/>
<rect x="550" y="686" width="7" height="2" fill="#3c3cff"/>
<rect x="557" y="686" width="7" height="2" fill="#ff0000"/>
<rect x="550" y="688" width="7" height="2" fill="#00ffff"/>
<rect x="550" y="693" width="7" height="2" fill="#00ffff"/>
<rect x="557" y="695" width="7" height="2" fill="#ffd700"/>
<rect x="530" y="688" width="7" height="2" fill="#ba55d3"/>
<rect x="530" y="690" width="14" height="2" fill="#3c3cff"/>
<rect x="530" y="692" width="7" height="1" fill="#008000"/>
<rect x="537" y="692" width="7" height="7" fill="#00ffff"/>
<rect x="523" y="695" width="14" height="6" fill="#00ffff"/>
<rect x="517" y="699" width="13" height="6" fill="#00ffff"/>
<rect x="510" y="701" width="7" height="5" fill="#00ffff"/>
<rect x="500" y="703" width="10" height="3" fill="#00ffff"/>
<rect x="500" y="706" width="3" height="2" fill="#00ffff"/>
<rect x="517" y="736" width="6" height="2" fill="#008000"/>
<rect x="196" y="690" width="27" height="28" fill="#ff0000"/>
<rect x="196" y="690" width="5" height="3" fill="#00bfff"/>
<rect x="201" y="690" width="4" height="2" fill="#ffffff"/>
<rect x="201" y="693" width="9" height="2" fill="#00bfff"/>
<rect x="205" y="695" width="5" height="2" fill="#ffffff"/>
<rect x="196" y="701" width="5" height="2" fill="#00bfff"/>
<rect x="205" y="705" width="5" height="1" fill="#ffffff"/>
<rect x="205" y="710" width="5" height="2" fill="#ffb6c1"/>
<rect x="196" y="712" width="9" height="2" fill="#ffffff"/>
<rect x="196" y="714" width="5" height="2" fill="#ffb6c1"/>
<rect x="210" y="712" width="5" height="2" fill="#ffb6c1"/>
<rect x="219" y="706" width="4" height="4" fill="#ffffff"/>
<rect x="219" y="710" width="4" height="2" fill="#ffb6c1"/>
<rect x="219" y="712" width="6" height="2" fill="#ba55d3"/>
<rect x="192" y="712" width="4" height="9" fill="#ff0000"/>
<rect x="192" y="710" width="4" height="2" fill="#ffb6c1"/>
<rect x="189" y="710" width="3" height="4" fill="#00bfff"/>
<rect x="186" y="716" width="10" height="5" fill="#ff0000"/>
<rect x="180" y="718" width="9" height="1" fill="#00bfff"/>
<rect x="180" y="719" width="6" height="6" fill="#ff0000"/>
<rect x="180" y="706" width="4" height="2" fill="#ff0000"/>
<rect x="180" y="714" width="4" height="2" fill="#ff0000"/>
<rect x="210" y="719" width="5" height="2" fill="#ffb6c1"/>
<rect x="196" y="723" width="5" height="4" fill="#ff0000"/>
<rect x="201" y="723" width="9" height="2" fill="#008000"/>
<rect x="180" y="729" width="4" height="2" fill="#ff0000"/>
<rect x="192" y="732" width="4" height="2" fill="#ffd700"/>
<rect x="180" y="736" width="4" height="2" fill="#ff0000"/>
<rect x="223" y="690" width="29" height="2" fill="#ff0000"/>
<rect x="231" y="690" width="6" height="2" fill="#3c3cff"/>
<rect x="237" y="690" width="4" height="2" fill="#ffb6c1"/>
<rect x="225" y="692" width="12" height="3" fill="#ffffff"/>
<rect x="241" y="695" width="4" height="4" fill="#ff0000"/>
<rect x="245" y="695" width="4" height="4" fill="#ffffff"/>
<rect x="249" y="695" width="4" height="4" fill="#ff0000"/>
<rect x="231" y="699" width="18" height="2" fill="#ffffff"/>
<rect x="223" y="701" width="35" height="7" fill="#ff0000"/>
<rect x="237" y="705" width="8" height="3" fill="#00ffff"/>
<rect x="249" y="701" width="4" height="2" fill="#00ffff"/>
<rect x="223" y="708" width="14" height="4" fill="#ffffff"/>
<rect x="219" y="710" width="4" height="2" fill="#ffb6c1"/>
<rect x="237" y="708" width="4" height="2" fill="#ff0000"/>
<rect x="245" y="710" width="8" height="2" fill="#008000"/>
<rect x="223" y="712" width="14" height="6" fill="#ff0000"/>
<rect x="231" y="714" width="6" height="4" fill="#ffb6c1"/>
<rect x="237" y="710" width="8" height="8" fill="#ffb6c1"/>
<rect x="237" y="716" width="4" height="2" fill="#ff0000"/>
<rect x="245" y="712" width="4" height="6" fill="#ff0000"/>
<rect x="249" y="712" width="4" height="6" fill="#ffb6c1"/>
<rect x="253" y="710" width="5" height="8" fill="#ff0000"/>
<rect x="225" y="719" width="6" height="4" fill="#ff0000"/>
<rect x="258" y="701" width="8" height="7" fill="#ff0000"/>
<rect x="258" y="703" width="4" height="5" fill="#00ffff"/>
<rect x="262" y="697" width="4" height="4" fill="#ff0000"/>
<rect x="266" y="692" width="7" height="22" fill="#ff0000"/>
<rect x="266" y="697" width="4" height="2" fill="#00ffff"/>
<rect x="266" y="703" width="4" height="2" fill="#00ffff"/>
<rect x="266" y="706" width="4" height="2" fill="#00ffff"/>
<rect x="266" y="708" width="4" height="2" fill="#ffd700"/>
<rect x="262" y="712" width="4" height="2" fill="#008000"/>
<rect x="262" y="714" width="4" height="2" fill="#ff0000"/>
<rect x="270" y="701" width="3" height="4" fill="#ffd700"/>
<rect x="273" y="699" width="4" height="2" fill="#00bfff"/>
<rect x="273" y="705" width="4" height="3" fill="#3c3cff"/>
<rect x="273" y="708" width="4" height="2" fill="#ba55d3"/>
<rect x="270" y="710" width="14" height="4" fill="#ff0000"/>
<rect x="270" y="714" width="3" height="2" fill="#ff0000"/>
<rect x="277" y="714" width="3" height="2" fill="#ff0000"/>
<rect x="280" y="710" width="4" height="2" fill="#ffb6c1"/>
<rect x="277" y="706" width="3" height="2" fill="#00ffff"/>
<rect x="284" y="710" width="6" height="2" fill="#ff0000"/>
<rect x="284" y="708" width="6" height="2" fill="#ffd700"/>
<rect x="284" y="705" width="6" height="3" fill="#00ffff"/>
<rect x="290" y="710" width="4" height="2" fill="#ffb6c1"/>
<rect x="290" y="701" width="8" height="9" fill="#ff0000"/>
<rect x="287" y="703" width="3" height="3" fill="#ffd700"/>
<rect x="294" y="703" width="4" height="2" fill="#3c3cff"/>
<rect x="294" y="701" width="4" height="2" fill="#00ffff"/>
<rect x="280" y="701" width="4" height="2" fill="#008000"/>
<rect x="290" y="699" width="8" height="2" fill="#008000"/>
<rect x="297" y="707" width="1" height="3" fill="#3c3cff"/>
<rect x="298" y="692" width="56" height="24" fill="#ffffff"/>
<rect x="354" y="699" width="62" height="17" fill="#ffffff"/>
<rect x="298" y="695" width="18" height="13" fill="#ff0000"/>
<rect x="298" y="697" width="6" height="4" fill="#008000"/>
<rect x="304" y="695" width="4" height="4" fill="#00ffff"/>
<rect x="304" y="701" width="4" height="2" fill="#00ffff"/>
<rect x="308" y="701" width="4" height="2" fill="#ffffff"/>
<rect x="312" y="697" width="4" height="2" fill="#00ffff"/>
<rect x="312" y="705" width="4" height="2" fill="#008000"/>
<rect x="298" y="703" width="2" height="2" fill="#008000"/>
<rect x="298" y="706" width="2" height="2" fill="#00ffff"/>
<rect x="298" y="708" width="10" height="2" fill="#3c3cff"/>
<rect x="300" y="710" width="4" height="2" fill="#ff0000"/>
<rect x="312" y="708" width="4" height="6" fill="#008000"/>
<rect x="308" y="712" width="4" height="2" fill="#ffb6c1"/>
<rect x="308" y="692" width="4" height="3" fill="#ff0000"/>
<rect x="304" y="693" width="4" height="2" fill="#ff0000"/>
<rect x="328" y="690" width="8" height="2" fill="#ff0000"/>
<rect x="336" y="690" width="7" height="2" fill="#00bfff"/>
<rect x="349" y="690" width="5" height="2" fill="#008000"/>
<rect x="321" y="692" width="7" height="1" fill="#00ffff"/>
<rect x="321" y="693" width="15" height="2" fill="#ff0000"/>
<rect x="336" y="693" width="7" height="2" fill="#ffb6c1"/>
<rect x="343" y="692" width="6" height="1" fill="#008000"/>
<rect x="343" y="693" width="6" height="2" fill="#00bfff"/>
<rect x="336" y="695" width="7" height="4" fill="#008000"/>
<rect x="343" y="695" width="6" height="2" fill="#008000"/>
<rect x="343" y="697" width="6" height="2" fill="#ffb6c1"/>
<rect x="321" y="695" width="15" height="4" fill="#00bfff"/>
<rect x="328" y="695" width="8" height="2" fill="#ffffff"/>
<rect x="317" y="699" width="11" height="6" fill="#ff0000"/>
<rect x="317" y="703" width="4" height="2" fill="#00ffff"/>
<rect x="328" y="701" width="8" height="4" fill="#00ffff"/>
<rect x="349" y="703" width="5" height="2" fill="#ffb6c1"/>
<rect x="317" y="705" width="11" height="5" fill="#ff0000"/>
<rect x="328" y="705" width="8" height="5" fill="#00ffff"/>
<rect x="336" y="705" width="13" height="3" fill="#ff0000"/>
<rect x="336" y="708" width="13" height="4" fill="#008000"/>
<rect x="349" y="706" width="5" height="2" fill="#008000"/>
<rect x="349" y="708" width="5" height="2" fill="#00bfff"/>
<rect x="349" y="710" width="5" height="2" fill="#ffb6c1"/>
<rect x="321" y="710" width="15" height="2" fill="#00ffff"/>
<rect x="328" y="710" width="8" height="2" fill="#00bfff"/>
<rect x="354" y="695" width="4" height="2" fill="#ff0000"/>
<rect x="354" y="693" width="4" height="2" fill="#00ffff"/>
<rect x="354" y="699" width="4" height="4" fill="#ff0000"/>
<rect x="354" y="703" width="4" height="2" fill="#00ffff"/>
<rect x="362" y="690" width="4" height="2" fill="#ff0000"/>
<rect x="366" y="692" width="3" height="3" fill="#ff0000"/>
<rect x="358" y="699" width="4" height="2" fill="#ffb6c1"/>
<rect x="358" y="701" width="4" height="4" fill="#00ffff"/>
<rect x="362" y="697" width="4" height="4" fill="#ba55d3"/>
<rect x="366" y="697" width="3" height="4" fill="#008000"/>
<rect x="362" y="703" width="4" height="3" fill="#ff0000"/>
<rect x="366" y="703" width="3" height="2" fill="#00bfff"/>
<rect x="366" y="701" width="3" height="2" fill="#ffb6c1"/>
<rect x="358" y="705" width="8" height="3" fill="#008000"/>
<rect x="366" y="706" width="6" height="8" fill="#00ffff"/>
<rect x="358" y="712" width="4" height="2" fill="#00ffff"/>
<rect x="366" y="710" width="3" height="2" fill="#ff0000"/>
<rect x="369" y="701" width="3" height="2" fill="#008000"/>
<rect x="369" y="703" width="3" height="3" fill="#00ffff"/>
<rect x="369" y="706" width="7" height="2" fill="#008000"/>
<rect x="372" y="703" width="4" height="7" fill="#008000"/>
<rect x="372" y="701" width="4" height="2" fill="#ffd700"/>
<rect x="376" y="705" width="9" height="7" fill="#00ffff"/>
<rect x="376" y="703" width="4" height="2" fill="#00ffff"/>
<rect x="376" y="699" width="4" height="2" fill="#3c3cff"/>
<rect x="376" y="701" width="4" height="2" fill="#ff0000"/>
<rect x="380" y="699" width="5" height="4" fill="#00ffff"/>
<rect x="380" y="703" width="5" height="3" fill="#ffd700"/>
<rect x="376" y="693" width="4" height="2" fill="#00bfff"/>
<rect x="380" y="692" width="5" height="1" fill="#ff0000"/>
<rect x="385" y="693" width="5" height="2" fill="#ba55d3"/>
<rect x="385" y="695" width="5" height="4" fill="#00bfff"/>
<rect x="385" y="701" width="5" height="4" fill="#ff0000"/>
<rect x="385" y="706" width="5" height="2" fill="#ff0000"/>
<rect x="390" y="699" width="5" height="2" fill="#ffb6c1"/>
<rect x="390" y="703" width="5" height="2" fill="#008000"/>
<rect x="390" y="705" width="15" height="3" fill="#00ffff"/>
<rect x="395" y="701" width="5" height="4" fill="#00bfff"/>
<rect x="400" y="699" width="5" height="4" fill="#ff0000"/>
<rect x="400" y="703" width="5" height="7" fill="#00ffff"/>
<rect x="395" y="705" width="5" height="1" fill="#ff0000"/>
<rect x="405" y="701" width="3" height="4" fill="#00ffff"/>
<rect x="405" y="703" width="11" height="2" fill="#ff0000"/>
<rect x="410" y="697" width="6" height="2" fill="#ffd700"/>
<rect x="410" y="699" width="6" height="4" fill="#00ffff"/>
<rect x="410" y="705" width="6" height="7" fill="#00ffff"/>
<rect x="416" y="706" width="8" height="2" fill="#ff0000"/>
<rect x="416" y="708" width="8" height="2" fill="#00ffff"/>
<rect x="434" y="705" width="10" height="3" fill="#00ffff"/>
<rect x="475" y="704" width="7" height="2" fill="#008000"/>
<rect x="491" y="705" width="11" height="3" fill="#00ffff"/>
<rect x="177" y="719" width="12" height="4" fill="#ff0000"/>
<rect x="177" y="719" width="3" height="2" fill="#00bfff"/>
<rect x="170" y="720" width="7" height="7" fill="#ff0000"/>
<rect x="170" y="719" width="3" height="2" fill="#00bfff"/>
<rect x="173" y="721" width="4" height="2" fill="#00bfff"/>
<rect x="160" y="721" width="10" height="6" fill="#ff0000"/>
<rect x="167" y="721" width="3" height="2" fill="#00bfff"/>
<rect x="165" y="723" width="12" height="4" fill="#ff0000"/>
<rect x="157" y="725" width="3" height="2" fill="#00ffff"/>
<rect x="154" y="725" width="3" height="2" fill="#ff0000"/>
<rect x="162" y="725" width="3" height="2" fill="#ffb6c1"/>
<rect x="165" y="727" width="2" height="2" fill="#ffb6c1"/>
<rect x="189" y="714" width="3" height="2" fill="#ffb6c1"/>
<rect x="165" y="716" width="2" height="2" fill="#ffb6c1"/>
<rect x="154" y="718" width="3" height="1" fill="#ffb6c1"/>
<rect x="150" y="719" width="4" height="4" fill="#ffd700"/>
<rect x="147" y="721" width="3" height="2" fill="#00bfff"/>
<rect x="147" y="723" width="10" height="5" fill="#ffb6c1"/>
<rect x="154" y="723" width="3" height="2" fill="#00bfff"/>
<rect x="139" y="725" width="4" height="5" fill="#ff0000"/>
<rect x="143" y="727" width="7" height="3" fill="#ff0000"/>
<rect x="143" y="725" width="4" height="2" fill="#ffb6c1"/>
<rect x="139" y="723" width="4" height="2" fill="#00ffff"/>
<rect x="150" y="727" width="4" height="2" fill="#ffb6c1"/>
<rect x="150" y="729" width="4" height="2" fill="#ffd700"/>
<rect x="147" y="732" width="7" height="2" fill="#ffd700"/>
<rect x="143" y="732" width="4" height="6" fill="#00ffff"/>
<rect x="139" y="736" width="4" height="2" fill="#ffb6c1"/>
<rect x="154" y="721" width="3" height="2" fill="#ffb6c1"/>
<rect x="173" y="679" width="4" height="1" fill="#ffb6c1"/>
<rect x="165" y="679" width="2" height="2" fill="#ff0000"/>
<rect x="165" y="680" width="2" height="2" fill="#ba55d3"/>
<rect x="162" y="682" width="3" height="2" fill="#ff0000"/>
<rect x="165" y="686" width="2" height="2" fill="#3c3cff"/>
<rect x="165" y="688" width="2" height="2" fill="#00bfff"/>
<rect x="150" y="688" width="4" height="2" fill="#ffb6c1"/>
<rect x="109" y="684" width="3" height="2" fill="#ffd700"/>
<rect x="109" y="690" width="3" height="3" fill="#ffb6c1"/>
<rect x="105" y="706" width="4" height="2" fill="#3c3cff"/>
<rect x="109" y="710" width="3" height="4" fill="#ffd700"/>
<rect x="109" y="714" width="3" height="2" fill="#ff0000"/>
<rect x="105" y="716" width="4" height="2" fill="#3c3cff"/>
<rect x="105" y="718" width="4" height="1" fill="#00ffff"/>
<rect x="109" y="716" width="3" height="5" fill="#ffd700"/>
<rect x="109" y="721" width="3" height="4" fill="#ffb6c1"/>
<rect x="105" y="723" width="4" height="2" fill="#00ffff"/>
<rect x="105" y="725" width="4" height="2" fill="#00bfff"/>
<rect x="109" y="725" width="3" height="2" fill="#00ffff"/>
<rect x="109" y="727" width="3" height="4" fill="#ffd700"/>
<rect x="105" y="729" width="4" height="3" fill="#ff0000"/>
<rect x="105" y="732" width="7" height="2" fill="#00ffff"/>
<rect x="109" y="734" width="3" height="4" fill="#ff0000"/>
<rect x="117" y="725" width="2" height="2" fill="#ffb6c1"/>
<rect x="117" y="727" width="2" height="2" fill="#ff0000"/>
<rect x="117" y="729" width="2" height="2" fill="#ffd700"/>
<rect x="119" y="725" width="2" height="4" fill="#ffd700"/>
<rect x="119" y="729" width="2" height="2" fill="#3c3cff"/>
<rect x="121" y="725" width="4" height="7" fill="#ff0000"/>
<rect x="125" y="725" width="2" height="2" fill="#ffb6c1"/>
<rect x="125" y="727" width="2" height="2" fill="#ffd700"/>
<rect x="125" y="729" width="2" height="3" fill="#ff0000"/>
<rect x="125" y="732" width="2" height="2" fill="#ffb6c1"/>
<rect x="127" y="725" width="3" height="2" fill="#ff0000"/>
<rect x="127" y="727" width="4" height="2" fill="#00ffff"/>
<rect x="130" y="725" width="6" height="2" fill="#00bfff"/>
<rect x="133" y="727" width="3" height="2" fill="#ff0000"/>
<rect x="133" y="729" width="3" height="2" fill="#ffd700"/>
<rect x="133" y="723" width="3" height="2" fill="#ffd700"/>
<rect x="133" y="719" width="3" height="2" fill="#ffd700"/>
<rect x="124" y="719" width="3" height="2" fill="#00ffff"/>
<rect x="124" y="721" width="3" height="2" fill="#ffd700"/>
<rect x="133" y="732" width="3" height="2" fill="#ff0000"/>
<rect x="121" y="734" width="3" height="2" fill="#ff0000"/>
<rect x="130" y="734" width="3" height="4" fill="#00ffff"/>
<rect x="127" y="736" width="3" height="2" fill="#00ffff"/>
<rect x="121" y="519" width="3" height="2" fill="#00ffff"/>
<rect x="105" y="617" width="4" height="2" fill="#00bfff"/>
<rect x="105" y="638" width="4" height="2" fill="#3c3cff"/>
<rect x="380" y="591" width="5" height="8" fill="#008000"/>
<rect x="400" y="591" width="5" height="4" fill="#008000"/>
<rect x="225" y="680" width="6" height="4" fill="#ffffff"/>
<rect x="231" y="680" width="6" height="4" fill="#ff0000"/>
<rect x="237" y="679" width="4" height="1" fill="#ff0000"/>
<rect x="237" y="680" width="4" height="2" fill="#3c3cff"/>
<rect x="237" y="682" width="8" height="2" fill="#ffffff"/>
<rect x="245" y="682" width="4" height="6" fill="#ff0000"/>
<rect x="249" y="682" width="4" height="6" fill="#ffffff"/>
<rect x="253" y="682" width="5" height="4" fill="#ff0000"/>
<rect x="253" y="686" width="5" height="2" fill="#ffffff"/>
<rect x="225" y="684" width="6" height="2" fill="#ff0000"/>
<rect x="225" y="686" width="6" height="2" fill="#00ffff"/>
<rect x="231" y="686" width="6" height="2" fill="#ffb6c1"/>
<rect x="237" y="684" width="8" height="4" fill="#ff0000"/>
<rect x="225" y="688" width="6" height="4" fill="#ff0000"/>
<rect x="231" y="688" width="6" height="2" fill="#ffd700"/>
<rect x="231" y="690" width="6" height="2" fill="#3c3cff"/>
<rect x="237" y="688" width="21" height="2" fill="#ff0000"/>
<rect x="241" y="690" width="12" height="2" fill="#ff0000"/>
<rect x="253" y="690" width="5" height="2" fill="#ffffff"/>
<rect x="237" y="690" width="4" height="3" fill="#ffb6c1"/>
<rect x="225" y="692" width="12" height="3" fill="#ffffff"/>
<rect x="241" y="693" width="21" height="2" fill="#ffffff"/>
<rect x="225" y="695" width="12" height="4" fill="#ff0000"/>
<rect x="225" y="699" width="6" height="2" fill="#ff0000"/>
<rect x="237" y="695" width="4" height="2" fill="#ffffff"/>
<rect x="241" y="695" width="4" height="4" fill="#ff0000"/>
<rect x="245" y="695" width="4" height="6" fill="#ffffff"/>
<rect x="249" y="695" width="4" height="4" fill="#ff0000"/>
<rect x="231" y="699" width="31" height="2" fill="#ffffff"/>
<rect x="253" y="695" width="9" height="4" fill="#ffffff"/>
<rect x="225" y="701" width="24" height="7" fill="#ff0000"/>
<rect x="249" y="701" width="4" height="2" fill="#00ffff"/>
<rect x="253" y="701" width="5" height="2" fill="#ffffff"/>
<rect x="253" y="703" width="5" height="5" fill="#ff0000"/>
<rect x="258" y="701" width="4" height="2" fill="#ff0000"/>
<rect x="258" y="703" width="4" height="5" fill="#00ffff"/>
<rect x="237" y="705" width="8" height="3" fill="#00ffff"/>
<rect x="205" y="656" width="5" height="2" fill="#ff0000"/>
<rect x="215" y="662" width="4" height="5" fill="#00ffff"/>
<rect x="215" y="675" width="4" height="2" fill="#ffffff"/>
<rect x="219" y="677" width="6" height="2" fill="#00ffff"/>
<rect x="219" y="679" width="6" height="1" fill="#ff0000"/>
<rect x="201" y="677" width="4" height="2" fill="#ffffff"/>
<rect x="205" y="677" width="10" height="3" fill="#ffffff"/>
<rect x="210" y="680" width="5" height="2" fill="#ffb6c1"/>
<rect x="215" y="680" width="8" height="2" fill="#ffffff"/>
<rect x="192" y="667" width="4" height="2" fill="#ffffff"/>
<rect x="297" y="638" width="3" height="2" fill="#ba55d3"/>
<rect x="297.5" y="625" width="2.5" height="2" fill="#00bfff"/>
</g>
<path d="M131 100h1v694h-1zM223 100h1v694h-1zM316 100h1v694h-1zM408 100h1v694h-1zM501 100h1v694h-1zM593 100h1v694h-1zM685 100h1v694h-1zM85 669h694v1h-694zM85 545h694v1h-694zM85 421h694v1h-694zM85 298h694v1h-694zM85 174h694v1h-694z" fill="#b0b0b0" shape-rendering="crispEdges"/>
<path d="M85 100h694v1h-694zM85 793h694v1h-694zM85 100h1v694h-1zM778 100h1v694h-1z" fill="#000" shape-rendering="crispEdges"/>
<path d="M131 794h1v5h-1zM223 794h1v5h-1zM316 794h1v5h-1zM408 794h1v5h-1zM501 794h1v5h-1zM593 794h1v5h-1zM685 794h1v5h-1zM778 794h1v5h-1zM80 793h5v1h-5zM80 669h5v1h-5zM80 545h5v1h-5zM80 421h5v1h-5zM80 298h5v1h-5zM80 174h5v1h-5z" fill="#000" shape-rendering="crispEdges"/>
<g transform="translate(0 813.60)" font-size="14.72"><text transform="translate(127.58 0) scale(0.959 1)">2</text></g>
<g transform="translate(0 813.60)" font-size="14.72"><text transform="translate(219.47 0) scale(0.995 1)">4</text></g>
<g transform="translate(0 813.60)" font-size="14.72"><text transform="translate(312.23 0) scale(1.029 1)">6</text></g>
<g transform="translate(0 813.60)" font-size="14.72"><text transform="translate(404.38 0) scale(1.005 1)">8</text></g>
<g transform="translate(0 813.60)" font-size="14.72"><text transform="translate(492.00 0) scale(0.950 1)">1</text><text transform="translate(500.76 0) scale(0.994 1)">0</text></g>
<g transform="translate(0 813.60)" font-size="14.72"><text transform="translate(584.24 0) scale(0.950 1)">1</text><text transform="translate(592.96 0) scale(0.959 1)">2</text></g>
<g transform="translate(0 813.60)" font-size="14.72"><text transform="translate(675.93 0) scale(0.950 1)">1</text><text transform="translate(684.69 0) scale(0.995 1)">4</text></g>
<g transform="translate(0 813.60)" font-size="14.72"><text transform="translate(768.98 0) scale(0.950 1)">1</text><text transform="translate(777.59 0) scale(1.029 1)">6</text></g>
<g transform="translate(0 798.50)" font-size="14.72"><text transform="translate(67.43 0) scale(0.994 1)">0</text></g>
<g transform="translate(0 674.50)" font-size="14.72"><text transform="translate(49.89 0) scale(0.959 1)">2</text><text transform="translate(58.68 0) scale(0.994 1)">0</text><text transform="translate(67.43 0) scale(0.994 1)">0</text></g>
<g transform="translate(0 550.50)" font-size="14.72"><text transform="translate(49.93 0) scale(0.995 1)">4</text><text transform="translate(58.68 0) scale(0.994 1)">0</text><text transform="translate(67.43 0) scale(0.994 1)">0</text></g>
<g transform="translate(0 426.50)" font-size="14.72"><text transform="translate(49.66 0) scale(1.029 1)">6</text><text transform="translate(58.68 0) scale(0.994 1)">0</text><text transform="translate(67.43 0) scale(0.994 1)">0</text></g>
<g transform="translate(0 303.50)" font-size="14.72"><text transform="translate(49.76 0) scale(1.005 1)">8</text><text transform="translate(58.68 0) scale(0.994 1)">0</text><text transform="translate(67.43 0) scale(0.994 1)">0</text></g>
<g transform="translate(0 179.50)" font-size="14.72"><text transform="translate(41.17 0) scale(0.950 1)">1</text><text transform="translate(49.93 0) scale(0.994 1)">0</text><text transform="translate(58.68 0) scale(0.994 1)">0</text><text transform="translate(67.43 0) scale(0.994 1)">0</text></g>
<g transform="translate(0 31.70)" font-size="30.19"><text transform="translate(146.46 0) scale(0.945 1)">N</text><text transform="translate(167.76 0) scale(0.964 1)">A</text><text transform="translate(187.74 0) scale(0.984 1)">L</text><text transform="translate(212.85 0) scale(0.888 1)">C</text><text transform="translate(233.01 0) scale(0.964 1)">A</text><text transform="translate(252.97 0) scale(0.990 1)">D</text><text transform="translate(274.98 0) scale(1.012 1)">I</text><text transform="translate(292.74 0) scale(1.032 1)">-</text><text transform="translate(310.31 0) scale(0.600 1)">J</text><text transform="translate(321.27 0) scale(1.032 1)">u</text><text transform="translate(339.77 0) scale(1.032 1)">n</text><text transform="translate(367.43 0) scale(1.009 1)">0</text><text transform="translate(385.92 0) scale(0.963 1)">1</text><text transform="translate(413.42 0) scale(0.963 1)">1</text><text transform="translate(431.48 0) scale(0.972 1)">2</text><text transform="translate(449.75 0) scale(1.035 1)">:</text><text transform="translate(459.68 0) scale(1.009 1)">0</text><text transform="translate(477.93 0) scale(1.009 1)">0</text><text transform="translate(496.00 0) scale(1.035 1)">:</text><text transform="translate(505.93 0) scale(1.009 1)">0</text><text transform="translate(524.18 0) scale(1.009 1)">0</text><text transform="translate(551.48 0) scale(0.972 1)">2</text><text transform="translate(569.93 0) scale(1.009 1)">0</text><text transform="translate(588.10 0) scale(0.972 1)">2</text><text transform="translate(606.55 0) scale(1.009 1)">4</text><text transform="translate(633.54 0) scale(0.940 1)">U</text><text transform="translate(653.55 0) scale(1.044 1)">T</text><text transform="translate(670.35 0) scale(0.888 1)">C</text></g>
<g transform="translate(0 840.70)" font-size="25.47"><text transform="translate(330.41 0) scale(0.809 1)">F</text><text transform="translate(342.00 0) scale(1.209 1)">r</text><text transform="translate(351.47 0) scale(1.019 1)">e</text><text transform="translate(366.22 0) scale(1.024 1)">q</text><text transform="translate(381.60 0) scale(1.017 1)">u</text><text transform="translate(396.59 0) scale(1.019 1)">e</text><text transform="translate(411.58 0) scale(1.017 1)">n</text><text transform="translate(426.54 0) scale(0.947 1)">c</text><text transform="translate(440.14 0) scale(1.013 1)">y</text><text transform="translate(462.17 0) scale(0.797 1)">(</text><text transform="translate(471.01 0) scale(0.941 1)">M</text><text transform="translate(491.76 0) scale(0.938 1)">H</text><text transform="translate(509.48 0) scale(1.011 1)">z</text><text transform="translate(523.80 0) scale(0.797 1)">)</text></g>
<g transform="translate(27.90 559.70) rotate(-90)" font-size="25.32"><text transform="translate(-0.11 0) scale(0.957 1)">V</text><text transform="translate(16.31 0) scale(0.964 1)">i</text><text transform="translate(22.45 0) scale(1.209 1)">r</text><text transform="translate(32.35 0) scale(1.261 1)">t</text><text transform="translate(41.92 0) scale(1.017 1)">u</text><text transform="translate(57.09 0) scale(0.848 1)">a</text><text transform="translate(71.67 0) scale(0.964 1)">l</text><text transform="translate(85.68 0) scale(1.024 1)">h</text><text transform="translate(100.54 0) scale(1.019 1)">e</text><text transform="translate(115.68 0) scale(0.964 1)">i</text><text transform="translate(121.92 0) scale(1.025 1)">g</text><text transform="translate(137.18 0) scale(1.024 1)">h</text><text transform="translate(151.97 0) scale(1.261 1)">t</text><text transform="translate(169.61 0) scale(0.797 1)">(</text><text transform="translate(178.43 0) scale(1.055 1)">k</text><text transform="translate(192.18 0) scale(1.075 1)">m</text><text transform="translate(216.86 0) scale(0.797 1)">)</text></g>
<rect x="809" y="712" width="31" height="91" fill="#008000" shape-rendering="crispEdges"/>
<rect x="809" y="622" width="31" height="90" fill="#ff0000" shape-rendering="crispEdges"/>
<rect x="809" y="532" width="31" height="90" fill="#3c3cff" shape-rendering="crispEdges"/>
<rect x="809" y="442" width="31" height="90" fill="#ba55d3" shape-rendering="crispEdges"/>
<rect x="809" y="352" width="31" height="90" fill="#ffb6c1" shape-rendering="crispEdges"/>
<rect x="809" y="262" width="31" height="90" fill="#ffd700" shape-rendering="crispEdges"/>
<rect x="809" y="172" width="31" height="90" fill="#00ffff" shape-rendering="crispEdges"/>
<rect x="809" y="82" width="31" height="90" fill="#00bfff" shape-rendering="crispEdges"/>
<path d="M809 82h31v1h-31zM809 802h31v1h-31zM809 82h1v721h-1zM839 82h1v721h-1z" fill="#000" shape-rendering="crispEdges"/>
<path d="M840 757h5v1h-5zM840 667h5v1h-5zM840 577h5v1h-5zM840 487h5v1h-5zM840 397h5v1h-5zM840 307h5v1h-5zM840 217h5v1h-5zM840 127h5v1h-5zM840 802h3v1h-3zM840 712h3v1h-3zM840 622h3v1h-3zM840 532h3v1h-3zM840 442h3v1h-3zM840 352h3v1h-3zM840 262h3v1h-3zM840 172h3v1h-3zM840 82h3v1h-3z" fill="#000" shape-rendering="crispEdges"/>
<g transform="translate(0 763.02)" font-size="16.67"><text transform="translate(849.23 0) scale(1.001 1)">X</text><text transform="translate(859.62 0) scale(1.078 1)">-</text><text transform="translate(865.73 0) scale(1.139 1)">m</text><text transform="translate(881.90 0) scale(1.063 1)">o</text><text transform="translate(892.01 0) scale(1.087 1)">d</text><text transform="translate(902.51 0) scale(1.080 1)">e</text></g>
<g transform="translate(0 673.06)" font-size="16.67"><text transform="translate(849.53 0) scale(1.015 1)">V</text><text transform="translate(859.75 0) scale(1.080 1)">e</text><text transform="translate(869.94 0) scale(1.281 1)">r</text><text transform="translate(876.83 0) scale(1.337 1)">t</text><text transform="translate(883.65 0) scale(1.022 1)">i</text><text transform="translate(888.05 0) scale(1.003 1)">c</text><text transform="translate(897.33 0) scale(0.899 1)">a</text><text transform="translate(907.52 0) scale(1.022 1)">l</text></g>
<g transform="translate(0 583.09)" font-size="16.67"><text transform="translate(848.25 0) scale(0.988 1)">N</text><text transform="translate(860.75 0) scale(0.988 1)">N</text><text transform="translate(873.45 0) scale(0.986 1)">W</text></g>
<g transform="translate(0 493.13)" font-size="16.67"><text transform="translate(849.53 0) scale(0.986 1)">W</text></g>
<g transform="translate(0 403.17)" font-size="16.67"><text transform="translate(848.93 0) scale(0.891 1)">S</text><text transform="translate(859.43 0) scale(0.891 1)">S</text><text transform="translate(869.98 0) scale(0.986 1)">W</text></g>
<g transform="translate(0 313.21)" font-size="16.67"><text transform="translate(848.93 0) scale(0.891 1)">S</text><text transform="translate(859.43 0) scale(0.891 1)">S</text><text transform="translate(869.95 0) scale(0.867 1)">E</text></g>
<g transform="translate(0 223.24)" font-size="16.67"><text transform="translate(848.42 0) scale(0.867 1)">E</text></g>
<g transform="translate(0 133.28)" font-size="16.67"><text transform="translate(848.25 0) scale(0.988 1)">N</text><text transform="translate(860.75 0) scale(0.988 1)">N</text><text transform="translate(873.42 0) scale(0.867 1)">E</text></g>
<g transform="translate(935.75 549.70) rotate(-90)" font-size="25.40"><text transform="translate(-0.05 0) scale(0.950 1)">A</text><text transform="translate(16.18 0) scale(1.011 1)">z</text><text transform="translate(29.31 0) scale(0.964 1)">i</text><text transform="translate(35.68 0) scale(1.075 1)">m</text><text transform="translate(58.92 0) scale(1.017 1)">u</text><text transform="translate(73.85 0) scale(1.261 1)">t</text><text transform="translate(83.56 0) scale(1.024 1)">h</text><text transform="translate(106.26 0) scale(0.976 1)">D</text><text transform="translate(125.06 0) scale(0.964 1)">i</text><text transform="translate(131.20 0) scale(1.209 1)">r</text><text transform="translate(140.66 0) scale(1.019 1)">e</text><text transform="translate(155.49 0) scale(0.947 1)">c</text><text transform="translate(168.60 0) scale(1.261 1)">t</text><text transform="translate(178.56 0) scale(0.964 1)">i</text><text transform="translate(184.82 0) scale(1.003 1)">o</text><text transform="translate(199.77 0) scale(1.017 1)">n</text></g>
</svg></body></html>
